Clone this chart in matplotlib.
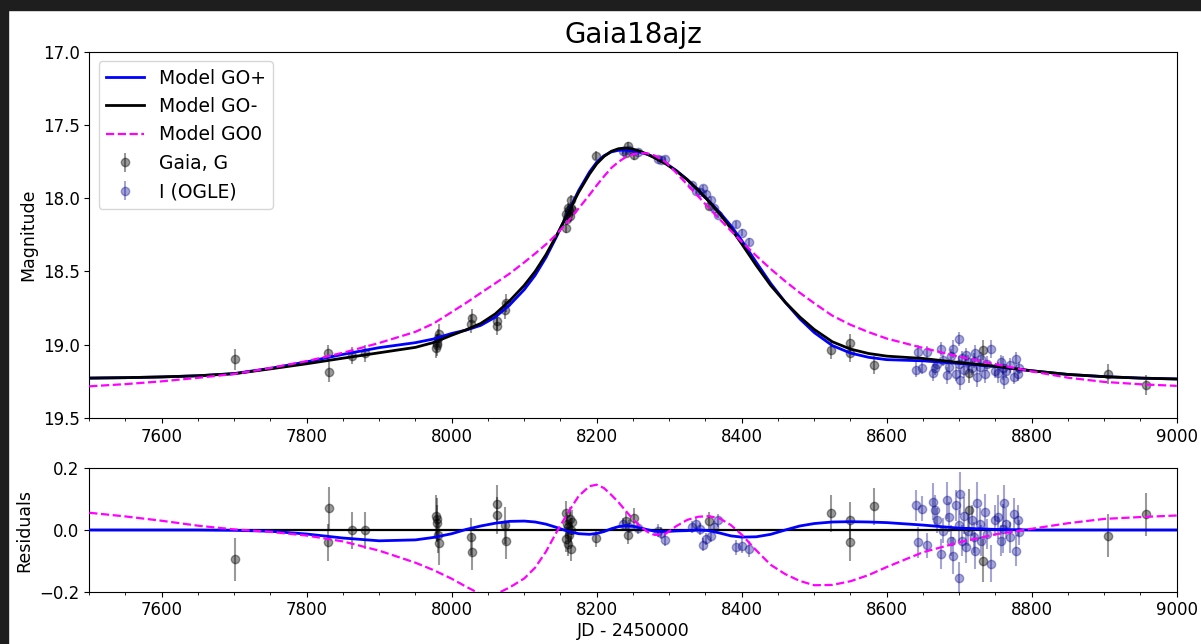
import numpy as np
import matplotlib
matplotlib.use("Agg")
import matplotlib.pyplot as plt
from matplotlib.patches import Rectangle
from matplotlib.ticker import MultipleLocator

# model curves (JD - 2450000)
t_model = [7500, 7550, 7600, 7650, 7700, 7750, 7800, 7850, 7900, 7950, 7975, 8000,
           8020, 8040, 8060, 8080, 8100, 8115, 8130, 8145, 8160, 8175, 8190, 8200,
           8210, 8220, 8230, 8240, 8250, 8260, 8270, 8280, 8295, 8310, 8325, 8340,
           8355, 8370, 8385, 8400, 8420, 8440, 8460, 8480, 8500, 8525, 8550, 8575,
           8600, 8650, 8700, 8750, 8800, 8850, 8900, 8950, 9000]
mag_go_minus = [19.228, 19.225, 19.220, 19.212, 19.198, 19.165, 19.130, 19.092, 19.055,
                19.018, 18.985, 18.935, 18.898, 18.855, 18.790, 18.700, 18.595, 18.500,
                18.385, 18.250, 18.105, 17.960, 17.835, 17.765, 17.715, 17.680, 17.662,
                17.657, 17.665, 17.680, 17.700, 17.725, 17.765, 17.815, 17.875, 17.945,
                18.023, 18.109, 18.206, 18.312, 18.459, 18.596, 18.710, 18.810, 18.896,
                18.980, 19.030, 19.060, 19.078, 19.094, 19.122, 19.147, 19.178, 19.203,
                19.218, 19.228, 19.234]
# residuals of the other two models with respect to GO-
res_go_plus = [0.0, 0.0, 0.0, 0.0, -0.001, -0.004, -0.013, -0.026, -0.035, -0.032, -0.024,
               -0.012, 0.002, 0.013, 0.022, 0.028, 0.029, 0.026, 0.019, 0.008, -0.004,
               -0.012, -0.014, -0.011, -0.005, 0.004, 0.011, 0.014, 0.012, 0.007, 0.001,
               -0.004, -0.005, -0.003, -0.002, 0.0, -0.002, -0.010, -0.019, -0.023, -0.022,
               -0.014, 0.0, 0.013, 0.021, 0.026, 0.027, 0.026, 0.024, 0.016, 0.006, 0.002,
               0.0, 0.0, 0.0, 0.0, 0.0]
res_go_zero = [0.056, 0.044, 0.030, 0.014, 0.002, -0.006, -0.018, -0.037, -0.067, -0.106,
               -0.130, -0.158, -0.184, -0.208, -0.209, -0.186, -0.157, -0.122, -0.070,
               -0.005, 0.055, 0.110, 0.142, 0.147, 0.136, 0.114, 0.090, 0.062, 0.035,
               0.012, -0.006, -0.016, -0.012, 0.013, 0.033, 0.043, 0.045, 0.037, 0.016,
               -0.015, -0.066, -0.113, -0.143, -0.165, -0.179, -0.178, -0.166, -0.146,
               -0.120, -0.072, -0.040, -0.014, 0.004, 0.022, 0.036, 0.042, 0.047]

# Gaia G photometry
gaia_t = [7701, 7830, 7830.5, 7862, 7880, 7978, 7979, 7980, 7981, 7982, 8027, 8028,
          8062, 8063, 8074, 8075, 8157, 8158, 8159, 8160, 8161, 8162, 8163, 8164,
          8165, 8166, 8199, 8240, 8243, 8252, 8355, 8523, 8549, 8550, 8582, 8714,
          8733, 8905, 8958]
gaia_mag = [19.10, 19.06, 19.185, 19.075, 19.06, 19.02, 19.005, 18.99, 18.955, 18.93,
            18.86, 18.815, 18.875, 18.84, 18.765, 18.715, 18.20, 18.105, 18.145, 18.07,
            18.115, 18.08, 18.12, 18.015, 18.065, 18.08, 17.71, 17.69, 17.645, 17.707,
            18.05, 19.035, 19.06, 18.99, 19.14, 19.19, 19.035, 19.20, 19.275]
gaia_err = [0.07, 0.06, 0.07, 0.06, 0.06, 0.07, 0.07, 0.06, 0.06, 0.07, 0.06, 0.06,
            0.06, 0.06, 0.06, 0.06, 0.04, 0.04, 0.04, 0.04, 0.04, 0.04, 0.04, 0.04,
            0.04, 0.04, 0.03, 0.03, 0.03, 0.03, 0.03, 0.06, 0.06, 0.06, 0.06, 0.07,
            0.07, 0.07, 0.07]
gaia_res = [-0.095, -0.040, 0.070, 0.0, 0.0, 0.045, 0.035, 0.022, -0.016, -0.043,
            -0.022, -0.070, 0.085, 0.048, 0.016, -0.035, 0.055, -0.030, 0.020, -0.045,
            0.010, -0.015, 0.035, -0.060, 0.0, 0.025, -0.026, 0.030, -0.015, 0.040,
            0.030, 0.055, 0.031, -0.040, 0.077, 0.064, -0.100, -0.018, 0.051]

# OGLE I photometry
ogle_t = [8236, 8244, 8257, 8284, 8289, 8294, 8331, 8337, 8342, 8347, 8351, 8357,
          8362, 8367, 8392, 8400, 8410,
          8641, 8643, 8649, 8656, 8664, 8667, 8670, 8675, 8678, 8683, 8686, 8688,
          8691, 8696, 8699, 8699.5, 8701, 8704, 8707, 8709, 8712, 8717, 8720, 8722,
          8725, 8728, 8730, 8736, 8738, 8744, 8749, 8754, 8757, 8760, 8762, 8765,
          8770, 8775, 8778, 8781, 8783]
ogle_mag = [17.676, 17.671, 17.682, 17.731, 17.738, 17.731, 17.909, 17.950, 17.959,
            17.933, 17.971, 18.012, 18.064, 18.116, 18.179, 18.235, 18.298,
            19.17, 19.05, 19.16, 19.05, 19.19, 19.16, 19.135, 19.03, 19.105, 19.21,
            19.15, 19.08, 19.03, 19.20, 19.13, 18.96, 19.24, 19.09, 19.17, 19.07,
            19.12, 19.16, 19.11, 19.06, 19.22, 19.15, 19.10, 19.20, 19.13, 19.03,
            19.18, 19.19, 19.12, 19.16, 19.24, 19.18, 19.14, 19.22, 19.10, 19.20, 19.16]
ogle_err = [0.02, 0.02, 0.02, 0.02, 0.02, 0.02, 0.02, 0.02, 0.02, 0.02, 0.02, 0.02,
            0.02, 0.02, 0.025, 0.025, 0.025,
            0.05, 0.05, 0.04, 0.04, 0.06, 0.05, 0.04, 0.05, 0.04, 0.06, 0.05, 0.05,
            0.06, 0.05, 0.05, 0.05, 0.07, 0.05, 0.06, 0.05, 0.05, 0.05, 0.05, 0.06,
            0.07, 0.05, 0.05, 0.06, 0.05, 0.06, 0.05, 0.07, 0.05, 0.08, 0.06, 0.05,
            0.05, 0.05, 0.05, 0.05, 0.04]
ogle_res = [0.018, 0.011, 0.007, -0.002, -0.010, -0.032, 0.009, 0.020, 0.004, -0.047,
            -0.029, -0.018, 0.009, 0.031, -0.056, -0.051, -0.062,
            0.080, -0.040, 0.069, -0.050, 0.091, 0.064, 0.031, -0.078, -0.002, 0.096,
            0.042, -0.034, -0.083, 0.080, 0.015, -0.154, 0.118, -0.034, 0.047, -0.056,
            -0.002, 0.031, -0.023, -0.067, 0.086, 0.020, -0.034, 0.058, -0.013, -0.110,
            0.031, 0.042, -0.034, 0.004, 0.086, 0.020, -0.023, 0.053, -0.067, 0.031, -0.007]

mag_go_plus = np.array(mag_go_minus) + np.array(res_go_plus)
mag_go_zero = np.array(mag_go_minus) + np.array(res_go_zero)

fig = plt.figure(figsize=(12.01, 6.44), dpi=100)

# dark screenshot border along the top and left
fig.patches.append(Rectangle((0, 1 - 10 / 644), 1, 10 / 644, transform=fig.transFigure,
                             color="#1e1e1e", zorder=-1))
fig.patches.append(Rectangle((0, 0), 8 / 1201, 1, transform=fig.transFigure,
                             color="#1e1e1e", zorder=-1))

ax1 = fig.add_axes([0.0743, 0.351, 0.9055, 0.5687])
ax2 = fig.add_axes([0.0743, 0.0812, 0.9055, 0.1916])

# top panel: light curve
ax1.errorbar(gaia_t, gaia_mag, yerr=gaia_err, fmt="o", color="k", ms=6, alpha=0.4,
             label="Gaia, G", zorder=1)
ax1.errorbar(ogle_t, ogle_mag, yerr=ogle_err, fmt="o", color="darkblue", ms=6, alpha=0.35,
             label="I (OGLE)", zorder=1)
ax1.plot(t_model, mag_go_plus, color="blue", lw=2, label="Model GO+", zorder=3)
ax1.plot(t_model, mag_go_minus, color="black", lw=2, label="Model GO-", zorder=4)
ax1.plot(t_model, mag_go_zero, color="magenta", lw=1.6, ls="--", label="Model GO0",
         zorder=5)

ax1.set_xlim(7500, 9000)
ax1.set_ylim(19.5, 17.0)
ax1.xaxis.set_major_locator(MultipleLocator(200))
ax1.xaxis.set_minor_locator(MultipleLocator(50))
ax1.yaxis.set_major_locator(MultipleLocator(0.5))
ax1.set_ylabel("Magnitude", fontsize=12.5)
ax1.set_title("Gaia18ajz", fontsize=20)
ax1.tick_params(labelsize=12)

h, lab = ax1.get_legend_handles_labels()
order = [lab.index(n) for n in ["Model GO+", "Model GO-", "Model GO0", "Gaia, G", "I (OGLE)"]]
ax1.legend([h[i] for i in order], [lab[i] for i in order], loc="upper left", fontsize=13.5)

# bottom panel: residuals against GO-
ax2.errorbar(gaia_t, gaia_res, yerr=gaia_err, fmt="o", color="k", ms=6, alpha=0.4, zorder=1)
ax2.errorbar(ogle_t, ogle_res, yerr=ogle_err, fmt="o", color="darkblue", ms=6, alpha=0.35,
             zorder=1)
ax2.axhline(0, color="black", lw=1.6, zorder=3)
ax2.plot(t_model, res_go_plus, color="blue", lw=2, zorder=4)
ax2.plot(t_model, res_go_zero, color="magenta", lw=1.6, ls="--", zorder=5)

ax2.set_xlim(7500, 9000)
ax2.set_ylim(-0.2, 0.2)
ax2.xaxis.set_major_locator(MultipleLocator(200))
ax2.xaxis.set_minor_locator(MultipleLocator(50))
ax2.yaxis.set_major_locator(MultipleLocator(0.2))
ax2.set_ylabel("Residuals", fontsize=12.5)
ax2.set_xlabel("JD - 2450000", fontsize=12.5, labelpad=2)
ax2.tick_params(labelsize=12)

fig.savefig("out.png", dpi=100)
